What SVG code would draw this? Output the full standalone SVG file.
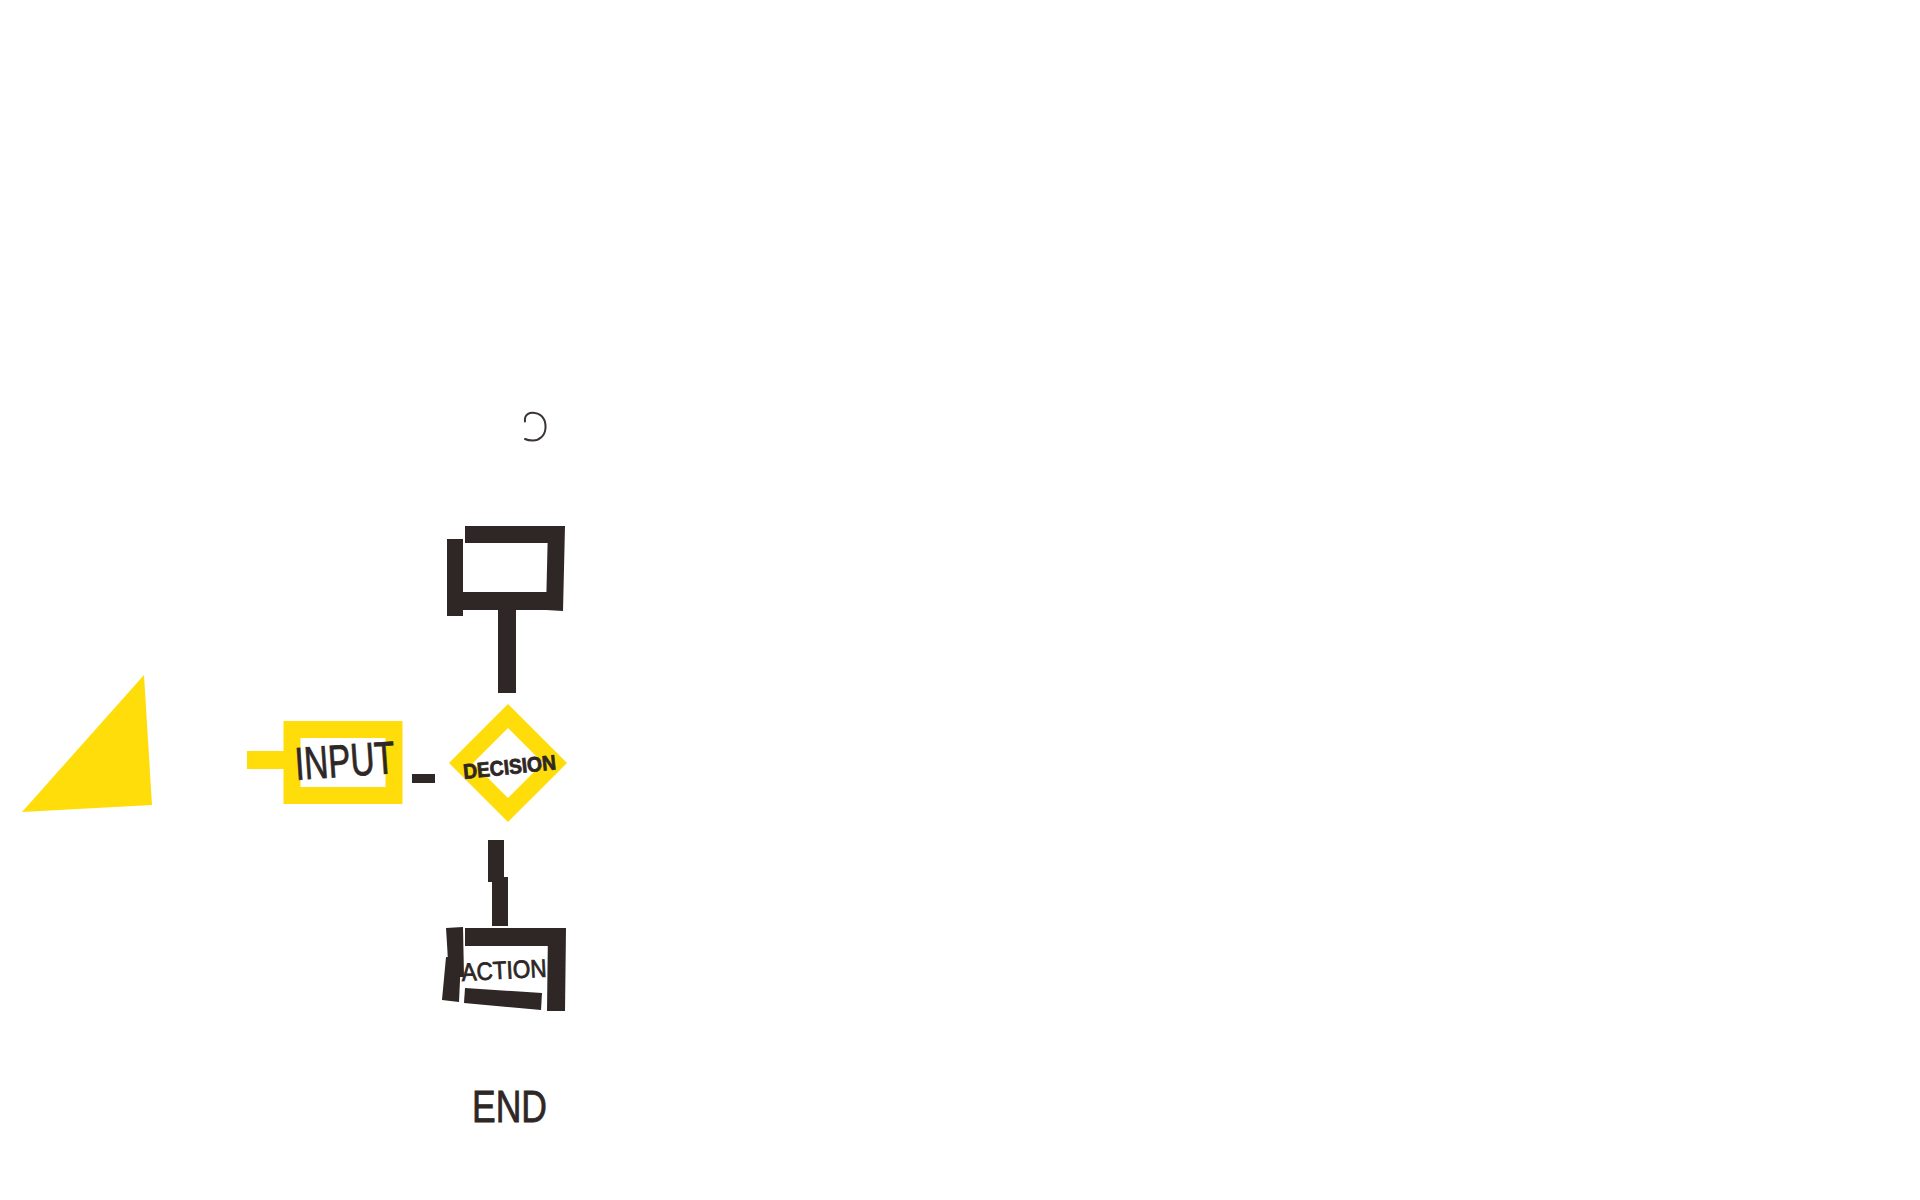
<svg xmlns="http://www.w3.org/2000/svg" width="1920" height="1200" viewBox="0 0 1920 1200">
<style>
.dk{fill:#2e2725}
.yf{fill:#ffdd0a}
.ys{fill:none;stroke:#ffdd0a;stroke-width:17}
.hand{font-family:"Liberation Sans","DejaVu Sans",sans-serif;fill:#2e2725;stroke:#2e2725;stroke-width:0.8}
</style>
<rect width="1920" height="1200" fill="#ffffff"/>

<g id="doodle">
<path d="M525,421.5 C524,414 530,412 535,413 C542,414 546,420 545.5,428 C545,436 539,440.5 533,440.5 C529,440.5 526,439.5 525,439" fill="none" stroke="#3a3432" stroke-width="2" stroke-linecap="round"/>
</g>

<g id="triangle">
<polygon class="yf" points="144,675 152,805 22,812"/>
</g>

<g id="start-box">
<polygon class="dk" points="465,526 564,526 563,543 465,543"/>
<polygon class="dk" points="548,526 565,526 563,611 546,610"/>
<rect class="dk" x="447" y="539" width="16" height="77"/>
<rect class="dk" x="463" y="592" width="84" height="18"/>
</g>

<g id="input">
<rect class="yf" x="247" y="751" width="37" height="18"/>
<rect class="ys" x="292" y="729.5" width="102" height="66"/>
<text class="hand" x="296" y="780" font-size="46" textLength="100" lengthAdjust="spacingAndGlyphs" transform="rotate(-4 296 780)">INPUT</text>
</g>

<g id="decision">
<polygon class="ys" points="508,716 555,763 508,810 461,763"/>
<text class="hand" x="464" y="779" font-size="21" font-weight="bold" textLength="93" lengthAdjust="spacingAndGlyphs" transform="rotate(-6 464 779)">DECISION</text>
</g>

<g id="action">
<rect class="dk" x="465" y="928" width="83" height="18"/>
<polygon class="dk" points="548,928 566,928 565,1011 547,1011"/>
<polygon class="dk" points="446,928 463,927 464,977 449,977"/>
<polygon class="dk" points="446,957 461,958 459,1002 442,1000"/>
<polygon class="dk" points="465,988 542,993 541,1010 464,1003"/>
<text class="hand" x="462" y="981" font-size="25" textLength="85" lengthAdjust="spacingAndGlyphs" transform="rotate(-3 462 981)">ACTION</text>
</g>

<g id="end">
<text class="hand" x="472" y="1122" font-size="44" textLength="75" lengthAdjust="spacingAndGlyphs">END</text>
</g>

<g id="connectors">
<rect class="dk" x="498" y="609" width="18" height="84"/>
<rect class="dk" x="412" y="774" width="23" height="9"/>
<rect class="dk" x="488" y="840" width="16" height="42"/>
<rect class="dk" x="492" y="877" width="16" height="49"/>
</g>
</svg>
